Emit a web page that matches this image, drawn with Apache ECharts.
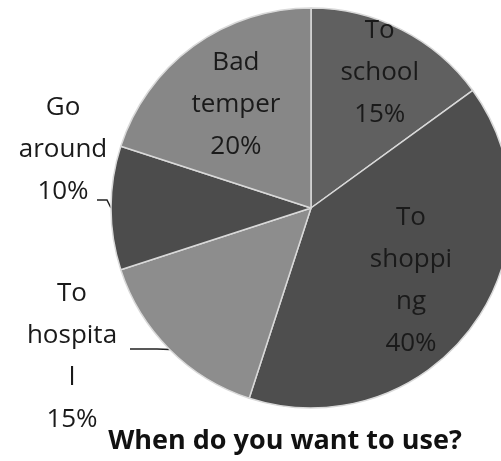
<!DOCTYPE html>
<html>
<head>
<meta charset="utf-8">
<script src="https://cdn.jsdelivr.net/npm/echarts@6/dist/echarts.min.js"></script>
<style>
  html, body { margin: 0; padding: 0; background: #ffffff; }
  #chart { width: 501px; height: 461px; }
</style>
</head>
<body>
<div id="chart"></div>
<script>
// Survey answers: when people want to use it
var categories = ['To school', 'To shopping', 'To hospital', 'Go around', 'Bad temper'];
// Wrapped label text as it appears next to each slice
var wrappedNames = ['To\nschool', 'To\nshoppi\nng', 'To\nhospita\nl', 'Go\naround', 'Bad\ntemper'];
var shares = [15, 40, 15, 10, 20];
var sliceColors = ['#606060', '#4e4e4e', '#8d8d8d', '#4c4c4c', '#878787'];

var CX = 311, CY = 208, R = 200;

// How far inside labels sit from the centre, relative to the default mid-radius
var insideScale = { 0: 1.47, 1: 1.2, 4: 1.24 };
// Outside labels (with leader lines) are placed beside the pie:
// label centre, then the elbow and end of the leader line
var outsidePos = {
  2: { at: [72, 357], elbow: [157, 349], end: [130, 349] },
  3: { at: [63, 150], elbow: [107, 200], end: [97, 200] }
};

var chart = echarts.init(document.getElementById('chart'), null, { renderer: 'canvas' });

var data = categories.map(function (name, i) {
  var outside = outsidePos.hasOwnProperty(i);
  return {
    name: name,
    value: shares[i],
    itemStyle: { color: sliceColors[i] },
    label: { position: outside ? 'outside' : 'inside' },
    labelLine: { show: outside }
  };
});

chart.setOption({
  backgroundColor: '#ffffff',
  animation: false,
  title: {
    text: 'When do you want to use?',
    left: 280,
    textAlign: 'center',
    top: 423,
    textStyle: {
      fontFamily: 'Open Sans',
      fontWeight: 'bold',
      fontSize: 27,
      color: '#111111'
    }
  },
  series: [{
    type: 'pie',
    center: [CX, CY],
    radius: [0, R],
    startAngle: 90,
    clockwise: true,
    avoidLabelOverlap: false,
    emphasis: { disabled: true },
    itemStyle: { borderColor: '#d9d9d9', borderWidth: 1.5 },
    label: {
      show: true,
      formatter: function (p) {
        return wrappedNames[p.dataIndex] + '\n' + p.percent.toFixed(0) + '%';
      },
      fontFamily: 'Open Sans',
      fontSize: 26,
      lineHeight: 42,
      color: '#1a1a1a',
      align: 'center',
      verticalAlign: 'middle'
    },
    labelLine: {
      show: true,
      length: 8,
      length2: 20,
      lineStyle: { color: '#222222', width: 1.5 }
    },
    labelLayout: function (p) {
      var i = p.dataIndex;
      if (outsidePos.hasOwnProperty(i)) {
        var o = outsidePos[i];
        var start = p.labelLinePoints ? p.labelLinePoints[0] : o.elbow;
        return {
          x: o.at[0],
          y: o.at[1],
          align: 'center',
          verticalAlign: 'middle',
          labelLinePoints: [start, o.elbow, o.end]
        };
      }
      var lx = p.labelRect.x + p.labelRect.width / 2;
      var ly = p.labelRect.y + p.labelRect.height / 2;
      var k = insideScale[i] || 1;
      return {
        x: CX + (lx - CX) * k,
        y: CY + (ly - CY) * k,
        align: 'center',
        verticalAlign: 'middle'
      };
    },
    data: data
  }]
});
</script>
</body>
</html>
